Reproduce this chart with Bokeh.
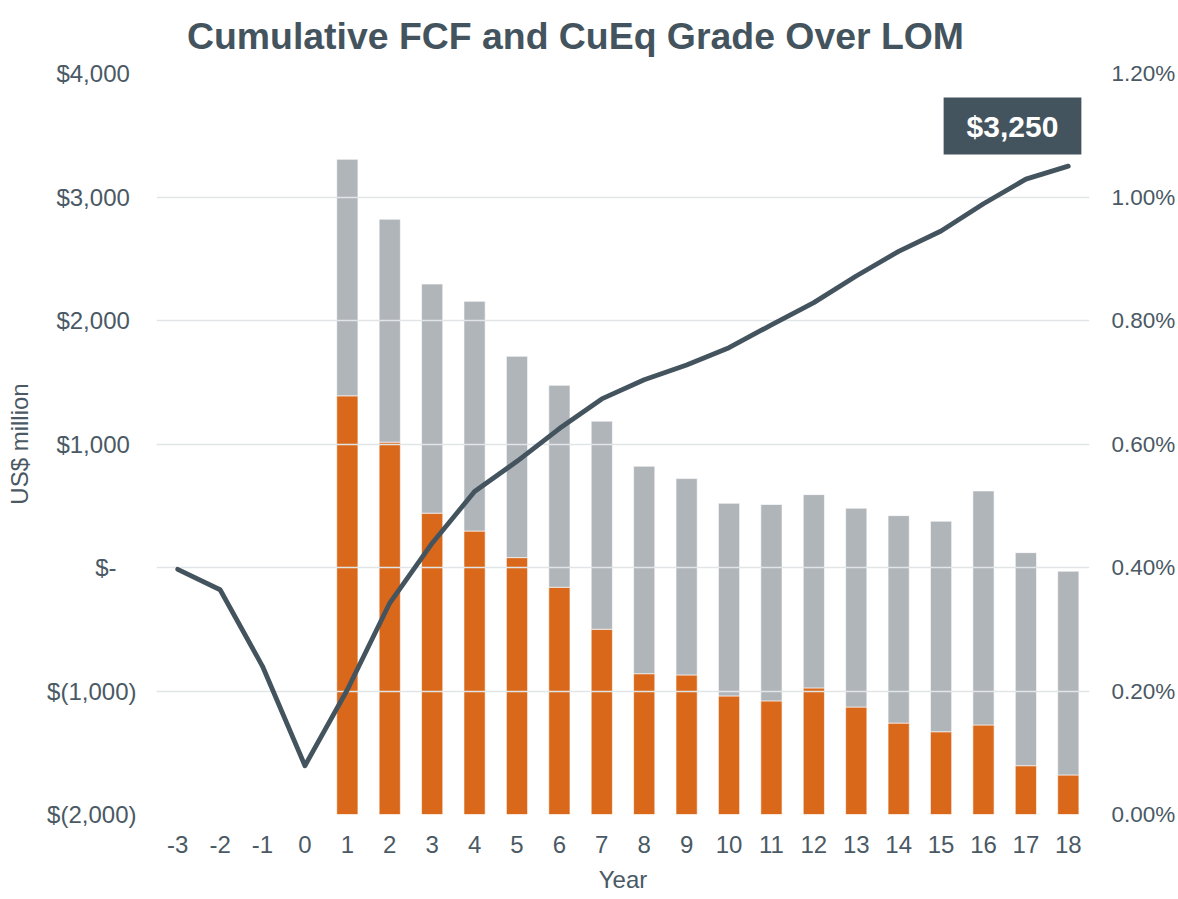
from bokeh.plotting import figure
from bokeh.models import (Range1d, FactorRange, LinearAxis, FixedTicker,
                          ColumnDataSource, Label, PrintfTickFormatter)
from bokeh.embed import file_html
from bokeh.resources import INLINE

# ---------------- data ----------------
years = ["-3", "-2", "-1", "0", "1", "2", "3", "4", "5", "6", "7", "8", "9",
         "10", "11", "12", "13", "14", "15", "16", "17", "18"]
cum_fcf = [-15, -180, -800, -1605, -990, -288, 197, 615, 860, 1125, 1365,
           1520, 1640, 1780, 1965, 2145, 2360, 2560, 2725, 2945, 3145, 3250]

bar_years = ["1", "2", "3", "4", "5", "6", "7", "8", "9", "10", "11", "12",
             "13", "14", "15", "16", "17", "18"]
cu_grade = [0.678, 0.603, 0.488, 0.459, 0.416, 0.368, 0.300, 0.228, 0.226,
            0.192, 0.184, 0.205, 0.174, 0.148, 0.134, 0.145, 0.079, 0.064]
other_grade = [0.383, 0.361, 0.371, 0.372, 0.326, 0.327, 0.337, 0.336, 0.318,
               0.312, 0.318, 0.313, 0.322, 0.336, 0.341, 0.379, 0.345, 0.330]

fcf_ticks = [-2000, -1000, 0, 1000, 2000, 3000, 4000]
fcf_tick_labels = ["$(2,000)", "$(1,000)", "$-\u00a0\u00a0\u00a0", "$1,000\u00a0",
                   "$2,000\u00a0", "$3,000\u00a0", "$4,000\u00a0"]
grade_ticks = [0.0, 0.2, 0.4, 0.6, 0.8, 1.0, 1.2]

final_label = "$3,250"
title_text = "Cumulative FCF and CuEq Grade Over LOM"

# ---------------- style ----------------
ORANGE = "#D9681A"
GRAY = "#B0B5BA"
DARK = "#44545E"
TEXT = "#4A5964"
GRID = "#E1E5E8"
FONT = "Liberation Sans"

p = figure(x_range=FactorRange(factors=years), y_range=Range1d(-2000, 4000),
           frame_width=933, frame_height=741,
           min_border_left=156, min_border_right=86,
           min_border_top=73, min_border_bottom=78,
           output_backend="svg", toolbar_location=None,
           background_fill_color="white", border_fill_color="white")
p.outline_line_color = None
p.extra_y_ranges = {"grade": Range1d(0, 1.2)}

bar_src = ColumnDataSource(dict(year=bar_years, cu=cu_grade, other=other_grade))
p.vbar_stack(["cu", "other"], x="year", width=0.5, source=bar_src,
             fill_color=[ORANGE, GRAY], line_color="white", line_width=1,
             line_alpha=0.6, y_range_name="grade", level="image")

line_src = ColumnDataSource(dict(year=years, fcf=cum_fcf))
p.line("year", "fcf", source=line_src, line_color=DARK, line_width=4.8,
       line_join="round", line_cap="round")

# grid
p.xgrid.visible = False
p.ygrid.ticker = FixedTicker(ticks=fcf_ticks)
p.ygrid.grid_line_color = GRID
p.ygrid.grid_line_width = 1.6

# left axis
ya = p.yaxis[0]
ya.ticker = FixedTicker(ticks=fcf_ticks)
ya.major_label_overrides = dict(zip(fcf_ticks, fcf_tick_labels))
ya.axis_label = "US$ million"

# right axis
ra = LinearAxis(y_range_name="grade", ticker=FixedTicker(ticks=grade_ticks),
                formatter=PrintfTickFormatter(format="%.2f%%"))
p.add_layout(ra, "right")

xa = p.xaxis[0]
xa.axis_label = "Year"

for ax in (ya, ra, xa):
    ax.axis_line_color = None
    ax.major_tick_line_color = None
    ax.minor_tick_line_color = None
    ax.major_label_text_font = FONT
    ax.major_label_text_font_size = "24px"
    ax.major_label_text_color = TEXT
    ax.axis_label_text_font = FONT
    ax.axis_label_text_font_size = "24px"
    ax.axis_label_text_font_style = "normal"
    ax.axis_label_text_color = TEXT

ya.major_label_standoff = 14
ya.axis_label_standoff = 11
ra.major_label_standoff = 16
ra.major_label_text_font_size = "22.5px"
xa.major_label_standoff = 15
xa.axis_label_standoff = 10

# title
p.title.text = title_text
p.title.text_font = FONT
p.title.text_font_size = "37.4px"
p.title.text_font_style = "bold"
p.title.text_color = DARK
p.title.align = "left"
p.title.offset = 30.5
p.title.vertical_align = "top"
p.title.standoff = 29

# final value label
p.add_layout(Label(x=856, y=688.5, x_units="screen", y_units="screen",
                   text=final_label, text_align="center", text_baseline="middle",
                   text_color="white", text_font=FONT, text_font_size="30px",
                   text_font_style="bold", background_fill_color=DARK,
                   padding=(23, 12)))

open("out.html", "w").write(file_html(p, INLINE))
